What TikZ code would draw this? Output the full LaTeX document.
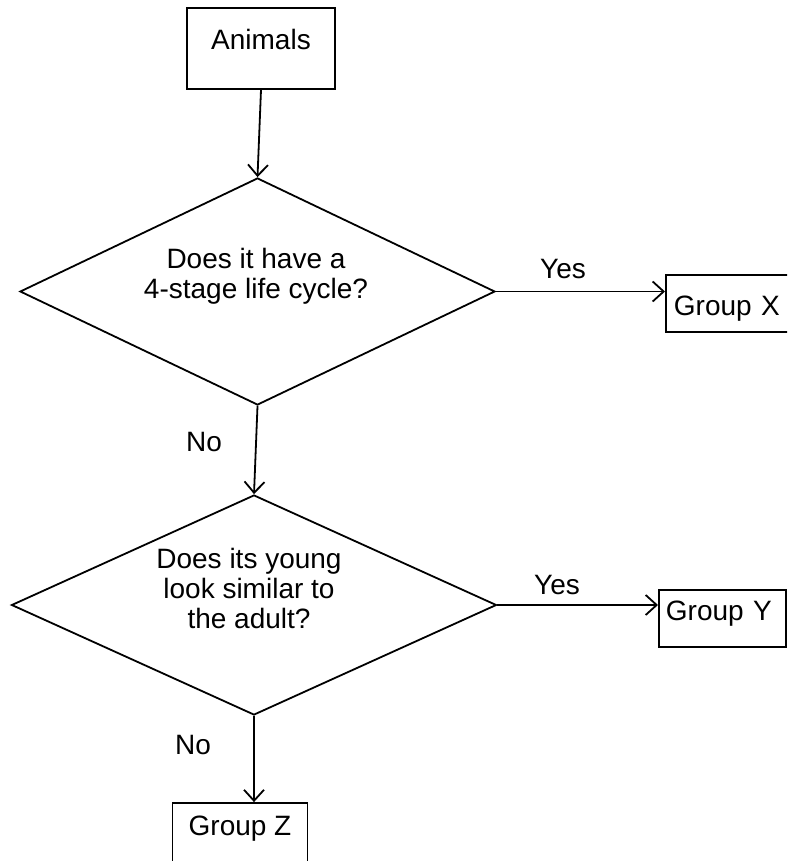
\documentclass[tikz,border=0pt]{standalone}
\usepackage{fontspec}
\setmainfont{Liberation Sans}
\usetikzlibrary{shapes.geometric,arrows.meta}
\begin{document}
\begin{tikzpicture}[x=1pt,y=-1pt,
  lbl/.style={font=\fontsize{28}{30}\selectfont, inner sep=0pt},
  qtext/.style={font=\fontsize{28}{30}\selectfont, inner sep=0pt, align=center},
  box/.style={draw, line width=1.8pt, inner sep=0pt, font=\fontsize{28}{30}\selectfont},
  dia/.style={draw, diamond, line width=1.8pt, inner sep=0pt},
  arr/.style={line width=1.8pt, -{Straight Barb[length=11pt,width=20pt,line width=1.8pt]}}]
\clip (0,0) rectangle (787,861);
\fill[white] (0,0) rectangle (787,861);
% boxes
\node[box, minimum width=148pt, text height=42pt, text depth=39pt, anchor=base] (an) at (261,50) {Animals};
\node[box, text width=114pt, inner xsep=8pt, align=left, text height=40pt, text depth=17pt, anchor=base west] (gx) at (665,315) {Group X};
\node[box, text width=113pt, inner xsep=7pt, align=left, text height=30pt, text depth=27pt, anchor=base west] (gy) at (658,620) {Group Y};
\node[box, minimum width=135pt, text height=32pt, text depth=40pt, anchor=base] (gz) at (240,835) {Group Z};
% diamonds
\node[dia, minimum width=475pt, minimum height=227pt] (d1) at (257.5,291.5) {};
\node[qtext] (q1) at (256,276) {Does it have a\\4-stage life cycle?};
\node[dia, minimum width=485pt, minimum height=220pt] (d2) at (254,605) {};
\node[qtext] (q2) at (249,588.5) {Does its young\\look similar to\\the adult?};
% labels
\node[lbl] (y1) at (563,269) {Yes};
\node[lbl] (y2) at (557,585) {Yes};
\node[lbl] (n1) at (204,442) {No};
\node[lbl] (n2) at (193,745) {No};
% connectors
\draw[arr] (an.south) -- (d1.north);
\draw[arr] (d1.east) -- (d1.east -| gx.west);
\draw[arr] (d1.south) -- (d2.north);
\draw[arr] (d2.east) -- (d2.east -| gy.west);
\draw[arr] (d2.south) -- (d2.south |- gz.north);
\end{tikzpicture}
\end{document}
